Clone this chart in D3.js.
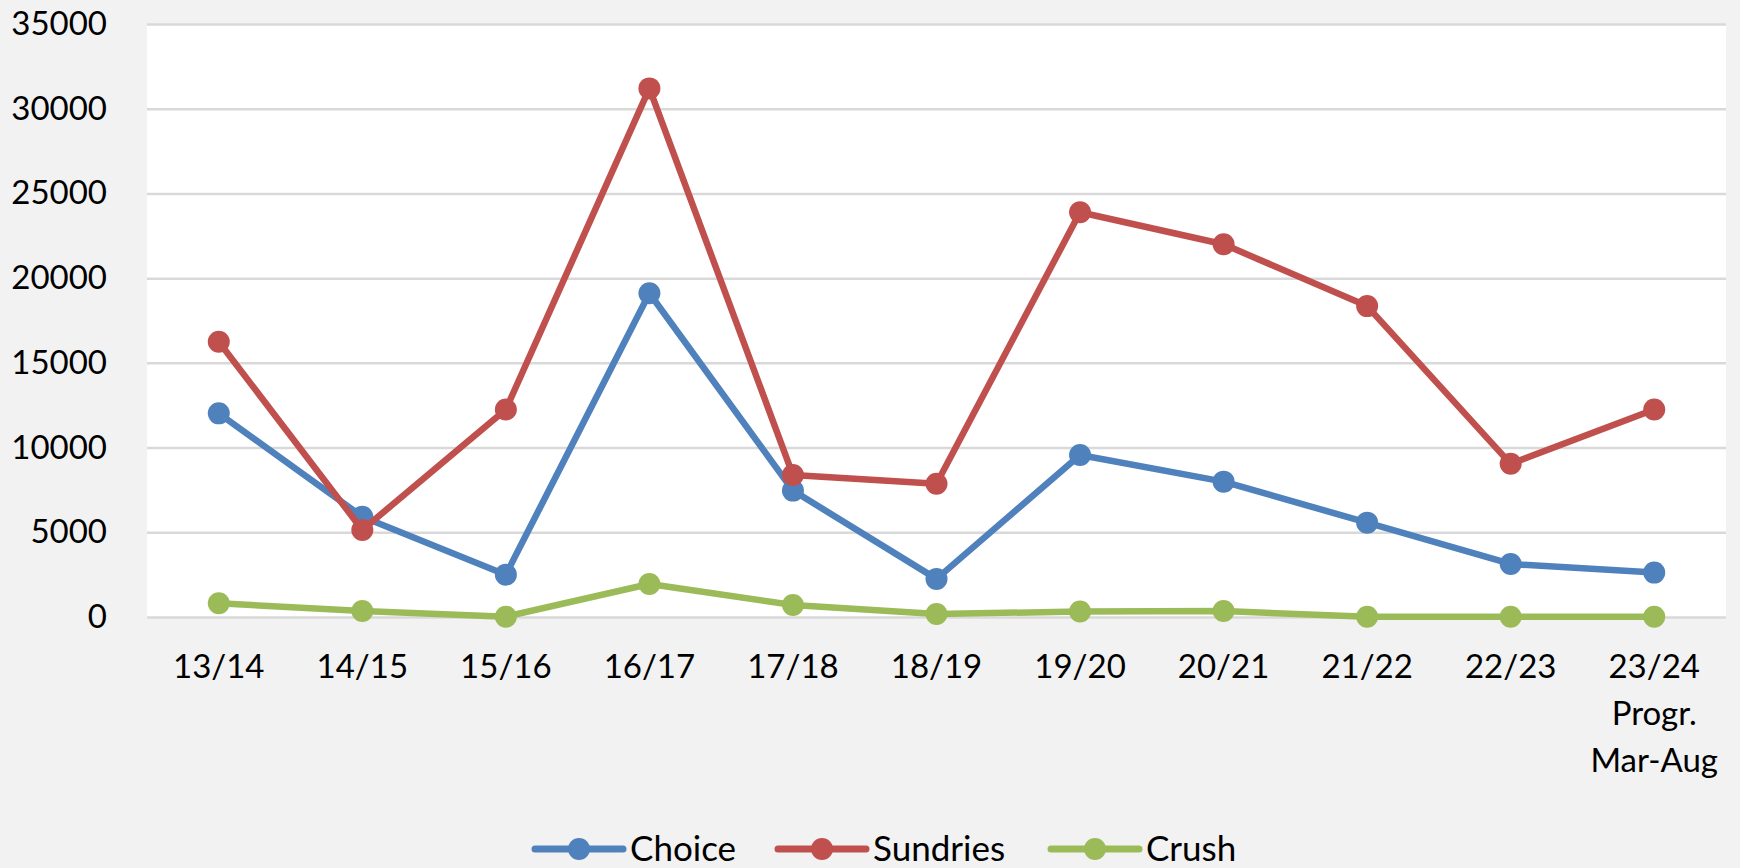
<!DOCTYPE html>
<html>
<head>
<meta charset="utf-8">
<script src="https://cdn.jsdelivr.net/npm/d3@7"></script>
<style>
  html, body { margin: 0; padding: 0; background: #f2f2f2; }
  svg { display: block; font-family: Lato, "Open Sans", sans-serif; }
</style>
</head>
<body>
<svg id="chart" width="1740" height="868"></svg>
<script>
const seasons = ['13/14', '14/15', '15/16', '16/17', '17/18', '18/19', '19/20', '20/21', '21/22', '22/23', '23/24|Progr.|Mar-Aug'];
const choice = [12020, 5920, 2500, 19110, 7460, 2250, 9560, 7990, 5570, 3130, 2620];
const sundries = [16250, 5140, 12250, 31200, 8380, 7860, 23890, 22000, 18350, 9040, 12250];
const crush = [810, 350, 20, 1950, 710, 180, 320, 350, 20, 20, 20];
const series_names = ['Choice', 'Sundries', 'Crush'];
const series_colors = ['#4f81bd', '#c0504d', '#9bbb59'];
const y_ticks = [0, 5000, 10000, 15000, 20000, 25000, 30000, 35000];

const all_series = [choice, sundries, crush];

const svg = d3.select('#chart');
const plot = { left: 147, right: 1726, top: 24, bottom: 617 };

const x = d3.scaleBand()
  .domain(seasons)
  .range([plot.left, plot.right]);

const y = d3.scaleLinear()
  .domain([0, 35000])
  .range([plot.bottom, plot.top]);

// plot area
svg.append('rect')
  .attr('x', plot.left)
  .attr('y', plot.top)
  .attr('width', plot.right - plot.left)
  .attr('height', plot.bottom - plot.top)
  .attr('fill', '#ffffff');

// gridlines + y labels
const y_axis = svg.append('g')
  .attr('transform', `translate(${plot.left},0)`)
  .call(d3.axisLeft(y).tickValues(y_ticks).tickSize(-(plot.right - plot.left)).tickPadding(40).tickFormat(d3.format('d')));
y_axis.select('.domain').remove();
y_axis.selectAll('.tick line').attr('stroke', '#d9d9d9').attr('stroke-width', 2.5);
y_axis.selectAll('.tick text')
  .attr('fill', '#000')
  .attr('font-size', 33)
  .attr('font-family', 'Lato, sans-serif');

// x labels
const x_labels = svg.append('g');
x_labels.selectAll('text')
  .data(seasons)
  .enter()
  .append('text')
  .attr('x', d => x(d) + x.bandwidth() / 2)
  .attr('y', 678)
  .attr('text-anchor', 'middle')
  .attr('font-size', 33)
  .attr('fill', '#000')
  .each(function (d) {
    const parts = d.split('|');
    d3.select(this).selectAll('tspan')
      .data(parts)
      .enter()
      .append('tspan')
      .attr('x', x(d) + x.bandwidth() / 2)
      .attr('dy', (p, i) => i === 0 ? 0 : 47)
      .text(p => p);
  });

// lines
const line = d3.line()
  .x((d, i) => x(seasons[i]) + x.bandwidth() / 2)
  .y(d => y(d));

all_series.forEach((values, s) => {
  const g = svg.append('g');
  g.append('path')
    .datum(values)
    .attr('fill', 'none')
    .attr('stroke', series_colors[s])
    .attr('stroke-width', 6.5)
    .attr('stroke-linejoin', 'round')
    .attr('d', line);
  g.selectAll('circle')
    .data(values)
    .enter()
    .append('circle')
    .attr('cx', (d, i) => x(seasons[i]) + x.bandwidth() / 2)
    .attr('cy', d => y(d))
    .attr('r', 11)
    .attr('fill', series_colors[s]);
});

// legend
const legend_x = [535, 778, 1051];
const legend = svg.append('g').attr('transform', 'translate(0,849)');
series_names.forEach((name, s) => {
  const item = legend.append('g').attr('transform', `translate(${legend_x[s]},0)`);
  item.append('line')
    .attr('x1', 0).attr('x2', 88)
    .attr('stroke', series_colors[s])
    .attr('stroke-width', 7)
    .attr('stroke-linecap', 'round');
  item.append('circle')
    .attr('cx', 44).attr('cy', 0)
    .attr('r', 11)
    .attr('fill', series_colors[s]);
  item.append('text')
    .attr('x', 95)
    .attr('y', 12)
    .attr('font-size', 35)
    .attr('fill', '#000')
    .text(name);
});
</script>
</body>
</html>
